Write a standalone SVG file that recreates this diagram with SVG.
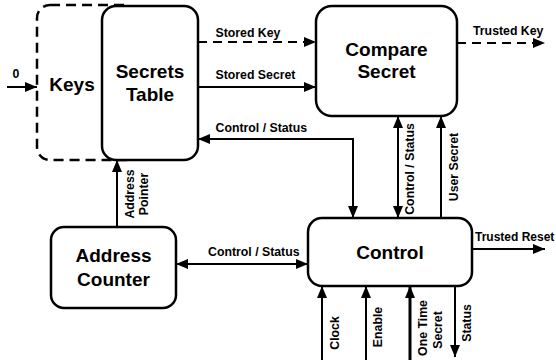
<svg xmlns="http://www.w3.org/2000/svg" width="556" height="360" viewBox="0 0 556 360">
<style>
.box{fill:#fff;stroke:#000;stroke-width:2.5}
.dbox{fill:#fff;stroke:#000;stroke-width:2.5;stroke-dasharray:10,6}
.nt{font-family:"Liberation Sans",Arial,sans-serif;font-weight:bold;font-size:19px;text-anchor:middle;fill:#000}
.lt{font-family:"Liberation Sans",Arial,sans-serif;font-weight:bold;font-size:12.3px;fill:#000}
.c{fill:none;stroke:#000;stroke-width:2}
.d{stroke-dasharray:9,6}
</style>
<defs>
<marker id="ah" markerUnits="userSpaceOnUse" markerWidth="12" markerHeight="10" refX="12" refY="5" orient="auto-start-reverse" viewBox="0 0 12 10">
<path d="M0,0 L12,5 L0,10 z" fill="#000"/>
</marker>
</defs>
<g id="keys">
<rect class="dbox" x="37" y="5" width="100" height="155" rx="13"/>
<text class="nt" x="72" y="91">Keys</text>
</g>
<g id="secrets-table">
<rect class="box" x="102" y="6" width="96" height="154" rx="14"/>
<text class="nt" x="150" y="78">Secrets</text>
<text class="nt" x="150" y="101">Table</text>
</g>
<g id="compare-secret">
<rect class="box" x="316" y="6" width="141" height="110" rx="16"/>
<text class="nt" x="386.5" y="56">Compare</text>
<text class="nt" x="386.5" y="78">Secret</text>
</g>
<g id="control">
<rect class="box" x="308" y="218" width="164" height="68" rx="14"/>
<text class="nt" x="390" y="259">Control</text>
</g>
<g id="address-counter">
<rect class="box" x="51" y="227" width="125" height="81" rx="13"/>
<text class="nt" x="113.5" y="262">Address</text>
<text class="nt" x="113.5" y="286">Counter</text>
</g>
<g id="connectors">
<path class="c" d="M7,87 H37" marker-end="url(#ah)"/>
<text class="lt" x="16" y="78" text-anchor="middle">0</text>
<path class="c d" d="M198,42 H316" marker-end="url(#ah)"/>
<text class="lt" x="215.5" y="37">Stored Key</text>
<path class="c" d="M198,87 H316" marker-end="url(#ah)"/>
<text class="lt" x="215.5" y="79">Stored Secret</text>
<path class="c d" d="M457,43 H545" marker-end="url(#ah)"/>
<text class="lt" x="473" y="35">Trusted Key</text>
<path class="c" d="M198,139 H353 V218" marker-start="url(#ah)" marker-end="url(#ah)"/>
<text class="lt" x="215.5" y="132">Control / Status</text>
<path class="c" d="M398,116 V218" marker-start="url(#ah)" marker-end="url(#ah)"/>
<text class="lt" transform="translate(414,169) rotate(-90)" text-anchor="middle">Control / Status</text>
<path class="c" d="M441,218 V116" marker-end="url(#ah)"/>
<text class="lt" transform="translate(458,167) rotate(-90)" text-anchor="middle">User Secret</text>
<path class="c" d="M117,227 V160" marker-end="url(#ah)"/>
<text class="lt" transform="translate(134,194) rotate(-90)" text-anchor="middle">Address</text>
<text class="lt" transform="translate(148,194) rotate(-90)" text-anchor="middle">Pointer</text>
<path class="c" d="M176,264 H308" marker-start="url(#ah)" marker-end="url(#ah)"/>
<text class="lt" x="208" y="256">Control / Status</text>
<path class="c" d="M472,249 H545" marker-end="url(#ah)"/>
<text class="lt" x="475" y="241" style="font-size:12px">Trusted Reset</text>
<path class="c" d="M322,360 V286" marker-end="url(#ah)"/>
<text class="lt" transform="translate(338.5,333) rotate(-90)" text-anchor="middle">Clock</text>
<path class="c" d="M366,360 V286" marker-end="url(#ah)"/>
<text class="lt" transform="translate(382,327) rotate(-90)" text-anchor="middle">Enable</text>
<path class="c" style="stroke-width:3" d="M410,360 V286" marker-end="url(#ah)"/>
<text class="lt" transform="translate(427,328) rotate(-90)" text-anchor="middle">One Time</text>
<text class="lt" transform="translate(441.5,330) rotate(-90)" text-anchor="middle">Secret</text>
<path class="c" d="M455,286 V357" marker-end="url(#ah)"/>
<text class="lt" transform="translate(470.5,323) rotate(-90)" text-anchor="middle">Status</text>
</g>
</svg>
